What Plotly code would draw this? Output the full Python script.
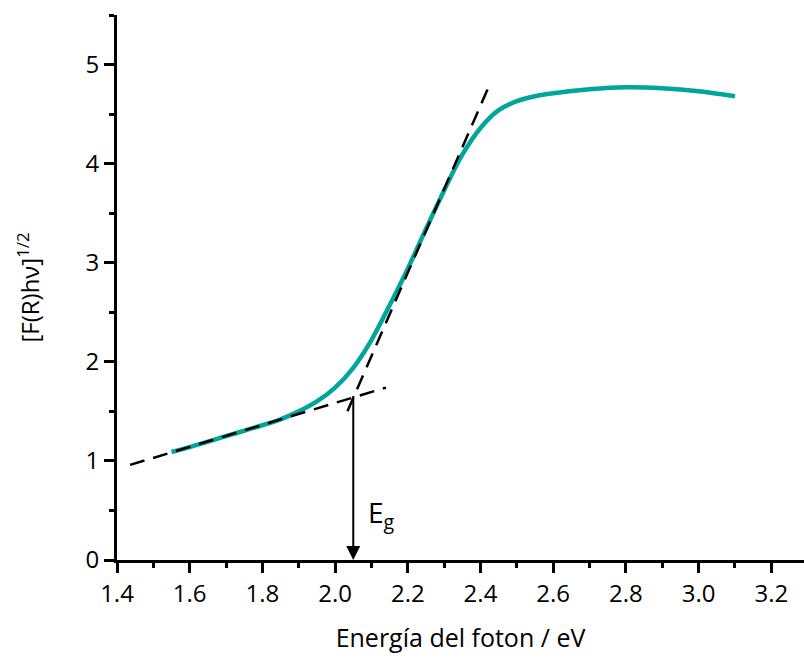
import plotly.graph_objects as go

# Measured curve: photon energy (eV) vs [F(R)hν]^1/2
energy = [1.55, 1.60, 1.70, 1.80, 1.85, 1.90, 1.95, 2.00, 2.05, 2.10, 2.15, 2.20,
          2.25, 2.30, 2.35, 2.40, 2.45, 2.50, 2.55, 2.60, 2.70, 2.80, 2.90, 3.00, 3.10]
kubelka = [1.09, 1.14, 1.25, 1.36, 1.42, 1.50, 1.60, 1.74, 1.94, 2.22, 2.57, 2.94,
           3.34, 3.73, 4.09, 4.36, 4.54, 4.63, 4.68, 4.71, 4.75, 4.77, 4.76, 4.73, 4.68]

# Tangent lines (endpoints)
base_x = [1.436, 2.14]
base_y = [0.96, 1.74]
slope_x = [2.034, 2.429]
slope_y = [1.50, 4.83]

# Band gap marker
eg_x = 2.05
eg_y = 1.67

teal = "#00A69C"
font_family = "Open Sans, Lato, sans-serif"

fig = go.Figure()
fig.add_trace(go.Scatter(x=energy, y=kubelka, mode="lines",
                         line=dict(color=teal, width=4.5, shape="spline", smoothing=1.0),
                         showlegend=False, hoverinfo="skip"))
fig.add_trace(go.Scatter(x=base_x, y=base_y, mode="lines",
                         line=dict(color="black", width=2.5, dash="15px,9px"),
                         showlegend=False, hoverinfo="skip"))
fig.add_trace(go.Scatter(x=slope_x, y=slope_y, mode="lines",
                         line=dict(color="black", width=2.5, dash="15px,9px"),
                         showlegend=False, hoverinfo="skip"))

fig.add_annotation(x=eg_x, y=0, ax=eg_x, ay=eg_y, xref="x", yref="y",
                   axref="x", ayref="y", showarrow=True, arrowhead=2,
                   arrowsize=1.4, arrowwidth=2, arrowcolor="black", text="")
fig.add_annotation(x=2.085, y=0.46, xref="x", yref="y", showarrow=False,
                   text="E<sub>g</sub>", xanchor="left",
                   font=dict(family=font_family, size=28, color="black"))

fig.update_layout(
    width=804, height=663,
    margin=dict(l=117, r=0, t=15, b=103),
    paper_bgcolor="white", plot_bgcolor="white",
    font=dict(family=font_family, color="black", size=24),
    xaxis=dict(range=[1.4, 3.29], tickmode="array",
               tickvals=[1.4, 1.6, 1.8, 2.0, 2.2, 2.4, 2.6, 2.8, 3.0, 3.2],
               ticktext=["1.4", "1.6", "1.8", "2.0", "2.2", "2.4", "2.6", "2.8", "3.0", "3.2"],
               ticks="outside", ticklen=10, tickwidth=2.5, tickcolor="black",
               minor=dict(dtick=0.1, tick0=1.4, ticks="outside", ticklen=5, tickwidth=2.5, tickcolor="black"),
               showline=True, linewidth=2.8, linecolor="black", showgrid=False, zeroline=False,
               tickfont=dict(size=24),
               title=dict(text="Energía del foton / eV", font=dict(size=25), standoff=22)),
    yaxis=dict(range=[0, 5.5], tickmode="array", tickvals=[0, 1, 2, 3, 4, 5],
               ticks="outside", ticklen=10, tickwidth=2.5, tickcolor="black",
               minor=dict(dtick=0.5, tick0=0, ticks="outside", ticklen=5, tickwidth=2.5, tickcolor="black"),
               showline=True, linewidth=2.8, linecolor="black", showgrid=False, zeroline=False,
               tickfont=dict(size=24),
               title=dict(text="[F(R)hν]<sup>1/2</sup>", font=dict(size=24), standoff=40)),
)

fig.write_html("out.html")
